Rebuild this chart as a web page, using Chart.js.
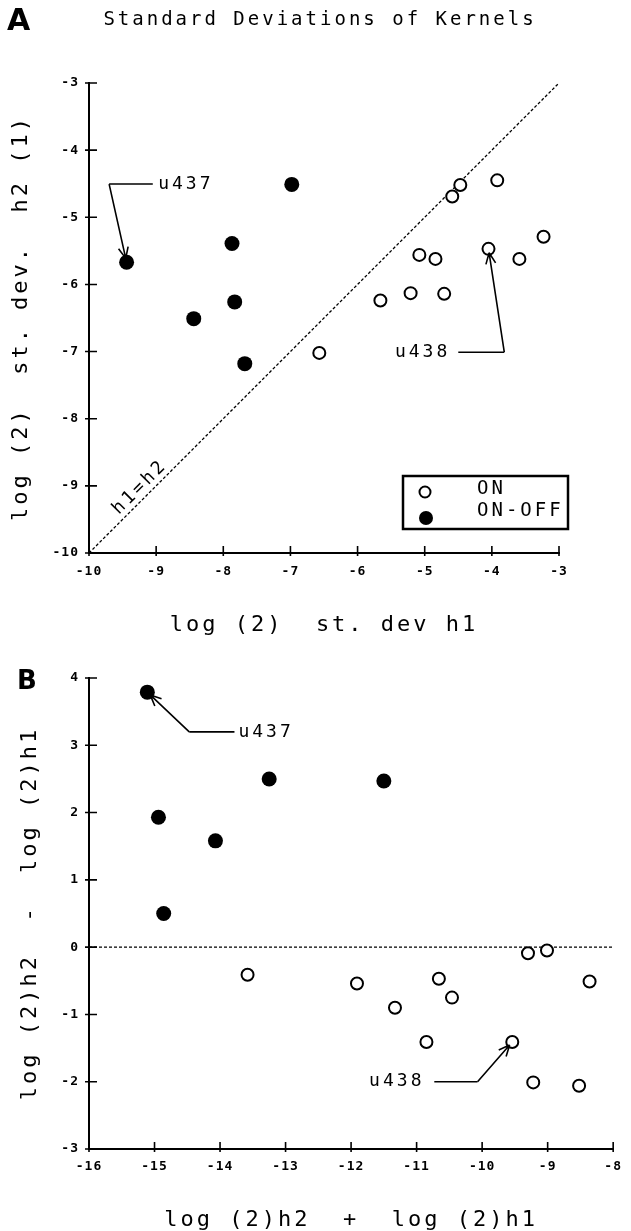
<!DOCTYPE html>
<html>
<head>
<meta charset="utf-8">
<script src="https://cdn.jsdelivr.net/npm/chart.js@4/dist/chart.umd.min.js"></script>
<style>
  html, body { margin: 0; padding: 0; background: #fff; }
  .panel { position: relative; width: 631px; }
  #panelA { height: 645px; }
  #panelB { height: 586px; }
</style>
</head>
<body>
<div class="panel" id="panelA"><canvas id="chartA"></canvas></div>
<div class="panel" id="panelB"><canvas id="chartB"></canvas></div>
<script>
// log(2) standard deviations of the kernels, ON cells
const onH1 = [-6.57, -5.66, -5.21, -4.71, -5.08, -4.84, -4.59, -4.47, -3.92, -4.05, -3.59, -3.23];
const onH2 = [-7.02, -6.24, -6.13, -6.14, -5.56, -5.62, -4.69, -4.52, -4.45, -5.47, -5.62, -5.29];
// ON-OFF cells
const onOffH1 = [-9.44, -8.44, -7.87, -7.83, -7.68, -6.98];
const onOffH2 = [-5.67, -6.51, -5.39, -6.26, -7.18, -4.51];

// panel B: log(2)h2 + log(2)h1 against log(2)h2 - log(2)h1
const onSum = [-13.58, -11.91, -11.33, -10.66, -10.46, -10.85, -9.54, -9.30, -9.01, -8.36, -9.22, -8.52];
const onDiff = [-0.41, -0.54, -0.90, -0.47, -0.75, -1.41, -1.41, -0.09, -0.05, -0.51, -2.01, -2.06];
const onOffSum = [-15.11, -14.94, -14.86, -14.07, -13.25, -11.50];
const onOffDiff = [3.79, 1.93, 0.50, 1.58, 2.50, 2.47];

// tick values
const ticksA = [-10, -9, -8, -7, -6, -5, -4, -3];
const ticksBx = [-16, -15, -14, -13, -12, -11, -10, -9, -8];
const ticksBy = [-3, -2, -1, 0, 1, 2, 3, 4];

const FONT = "'DejaVu Sans Mono', 'Liberation Mono', monospace";
const LETTER = "'DejaVu Sans', 'Liberation Sans', sans-serif";

const pts = (xs, ys) => xs.map((x, i) => ({ x, y: ys[i] }));

function axis(ticks, title, fit) {
  return {
    type: 'linear',
    min: ticks[0],
    max: ticks[ticks.length - 1],
    afterBuildTicks: s => { s.ticks = ticks.map(v => ({ value: v })); },
    afterFit: fit.size,
    grid: { display: false, drawTicks: false },
    border: { display: true, color: '#000', width: 2 },
    ticks: {
      z: 1,
      color: '#000',
      padding: fit.tickPad,
      autoSkip: false,
      maxRotation: 0,
      font: { family: FONT, size: 13, weight: 'bold' }
    },
    title: {
      display: true,
      text: title,
      color: '#000',
      padding: fit.titlePad,
      font: { family: FONT, size: 22, lineHeight: 1 }
    }
  };
}

// wide plotter-style lettering for titles, tighter for tick labels
const spacing = {
  id: 'spacing',
  beforeDraw(chart) { chart.ctx.letterSpacing = '3px'; },
  afterDatasetsDraw(chart) { chart.ctx.letterSpacing = '1px'; }
};

function tickMarks(chart) {
  const { ctx, chartArea, scales: { x, y } } = chart;
  ctx.save();
  ctx.strokeStyle = '#000';
  ctx.lineWidth = 1.6;
  ctx.beginPath();
  x.ticks.forEach(t => {
    const px = x.getPixelForValue(t.value);
    ctx.moveTo(px, chartArea.bottom - 7);
    ctx.lineTo(px, chartArea.bottom + 3);
  });
  y.ticks.forEach(t => {
    const py = y.getPixelForValue(t.value);
    ctx.moveTo(chartArea.left - 4, py);
    ctx.lineTo(chartArea.left + 8, py);
  });
  ctx.stroke();
  ctx.restore();
}

function drawCallout(chart, c) {
  const { ctx, scales: { x, y } } = chart;
  const px = v => x.getPixelForValue(v), py = v => y.getPixelForValue(v);
  ctx.save();
  ctx.strokeStyle = '#000';
  ctx.fillStyle = '#000';
  ctx.lineWidth = 1.6;
  ctx.letterSpacing = '3px';
  ctx.font = `18px ${FONT}`;
  ctx.textBaseline = 'middle';
  ctx.textAlign = c.align;
  ctx.fillText(c.label, px(c.at[0]), py(c.at[1]));
  ctx.beginPath();
  c.path.forEach(([vx, vy], i) => i ? ctx.lineTo(px(vx), py(vy)) : ctx.moveTo(px(vx), py(vy)));
  ctx.stroke();
  // arrow from the elbow onto the marker
  const [ex, ey] = c.path[c.path.length - 1];
  const x0 = px(ex), y0 = py(ey);
  const tx = px(c.target.x), ty = py(c.target.y);
  const a = Math.atan2(ty - y0, tx - x0);
  const x1 = tx - Math.cos(a) * 4, y1 = ty - Math.sin(a) * 4;
  ctx.beginPath();
  ctx.moveTo(x0, y0);
  ctx.lineTo(x1, y1);
  for (const s of [-0.42, 0.42]) {
    ctx.moveTo(x1, y1);
    ctx.lineTo(x1 - 12 * Math.cos(a + s), y1 - 12 * Math.sin(a + s));
  }
  ctx.stroke();
  ctx.restore();
}

function panelLetter(ctx, text, size, x, y) {
  ctx.save();
  ctx.fillStyle = '#000';
  ctx.font = `bold ${size}px ${LETTER}`;
  ctx.letterSpacing = '0px';
  ctx.textBaseline = 'middle';
  ctx.textAlign = 'left';
  ctx.fillText(text, x, y);
  ctx.restore();
}

const openStyle = { pointRadius: 6, pointBorderWidth: 2, pointBorderColor: '#000', pointBackgroundColor: '#fff' };
const filledStyle = { pointRadius: 7.5, pointBorderWidth: 0, pointBackgroundColor: '#000' };
const dashStyle = { showLine: true, borderColor: '#000', borderWidth: 1.3, borderDash: [3, 2], pointRadius: 0, fill: false };

const base = {
  responsive: true,
  maintainAspectRatio: false,
  animation: false,
  devicePixelRatio: 1,
  plugins: { legend: { display: false }, tooltip: { enabled: false } }
};

// ---- A: st. dev h2 against st. dev h1 ----
const onA = pts(onH1, onH2);
const onOffA = pts(onOffH1, onOffH2);

const extrasA = {
  id: 'extrasA',
  afterDraw(chart) {
    const { ctx, chartArea: ca, scales: { x, y } } = chart;
    tickMarks(chart);
    panelLetter(ctx, 'A', 30, 7, 22);

    ctx.save();
    ctx.letterSpacing = '3px';
    ctx.fillStyle = '#000';
    ctx.font = `19px ${FONT}`;
    ctx.textBaseline = 'middle';
    ctx.textAlign = 'center';
    ctx.fillText('Standard Deviations of Kernels', 320, 20);

    // identity line label
    ctx.translate(x.getPixelForValue(-9.24), y.getPixelForValue(-9.02));
    ctx.rotate(-Math.PI / 4);
    ctx.font = `18px ${FONT}`;
    ctx.fillText('h1=h2', 0, 0);
    ctx.restore();

    // legend box
    ctx.save();
    ctx.letterSpacing = '3px';
    ctx.strokeStyle = '#000';
    ctx.lineWidth = 2.5;
    ctx.strokeRect(ca.right - 156, ca.bottom - 77, 165, 53);
    ctx.beginPath();
    ctx.arc(ca.right - 134, ca.bottom - 61, 5.5, 0, Math.PI * 2);
    ctx.lineWidth = 2;
    ctx.stroke();
    ctx.beginPath();
    ctx.arc(ca.right - 133, ca.bottom - 35, 7, 0, Math.PI * 2);
    ctx.fillStyle = '#000';
    ctx.fill();
    ctx.font = `19px ${FONT}`;
    ctx.textBaseline = 'middle';
    ctx.textAlign = 'left';
    ctx.fillText('ON', ca.right - 82, ca.bottom - 64);
    ctx.fillText('ON-OFF', ca.right - 82, ca.bottom - 42);
    ctx.restore();

    drawCallout(chart, { label: 'u437', align: 'left', at: [-8.97, -4.505],
      path: [[-9.05, -4.505], [-9.70, -4.505]], target: onOffA[0] });
    drawCallout(chart, { label: 'u438', align: 'right', at: [-4.62, -7.01],
      path: [[-4.50, -7.01], [-3.815, -7.01]], target: onA[9] });
  }
};

new Chart(document.getElementById('chartA'), {
  type: 'scatter',
  data: {
    datasets: [
      { label: 'ON', data: onA, ...openStyle },
      { label: 'ON-OFF', data: onOffA, ...filledStyle },
      { label: 'h1=h2', data: [{ x: ticksA[0], y: ticksA[0] }, { x: ticksA[7], y: ticksA[7] }], ...dashStyle }
    ]
  },
  options: {
    ...base,
    layout: { padding: { left: 0, right: 72, top: 83, bottom: 2 } },
    scales: {
      x: axis(ticksA, 'log (2)  st. dev h1', {
        size: s => { s.height = 90; }, tickPad: 11, titlePad: { top: 0, bottom: 7 } }),
      y: axis(ticksA, 'log (2)  st. dev.  h2 (1)', {
        size: s => { s.width = 89; }, tickPad: 10, titlePad: { top: 10, bottom: 0 } })
    }
  },
  plugins: [spacing, extrasA]
});

// ---- B: difference against sum ----
const onB = pts(onSum, onDiff);
const onOffB = pts(onOffSum, onOffDiff);

const extrasB = {
  id: 'extrasB',
  afterDraw(chart) {
    tickMarks(chart);
    panelLetter(chart.ctx, 'B', 26, 17, 37);
    drawCallout(chart, { label: 'u437', align: 'left', at: [-13.72, 3.20],
      path: [[-13.78, 3.20], [-14.47, 3.20]], target: onOffB[0] });
    drawCallout(chart, { label: 'u438', align: 'right', at: [-10.88, -2.00],
      path: [[-10.73, -2.00], [-10.07, -2.00]], target: onB[6] });
  }
};

new Chart(document.getElementById('chartB'), {
  type: 'scatter',
  data: {
    datasets: [
      { label: 'ON', data: onB, ...openStyle },
      { label: 'ON-OFF', data: onOffB, ...filledStyle },
      { label: 'zero', data: [{ x: ticksBx[0], y: 0 }, { x: ticksBx[8], y: 0 }], ...dashStyle }
    ]
  },
  options: {
    ...base,
    layout: { padding: { left: 0, right: 9, top: 33, bottom: 0 } },
    scales: {
      x: axis(ticksBx, 'log (2)h2  +  log (2)h1', {
        size: s => { s.height = 82; }, tickPad: 10, titlePad: { top: 0, bottom: 0 } }),
      y: axis(ticksBy, 'log (2)h2  -  log (2)h1', {
        size: s => { s.width = 89; }, tickPad: 10, titlePad: { top: 19, bottom: 0 } })
    }
  },
  plugins: [spacing, extrasB]
});
</script>
</body>
</html>
